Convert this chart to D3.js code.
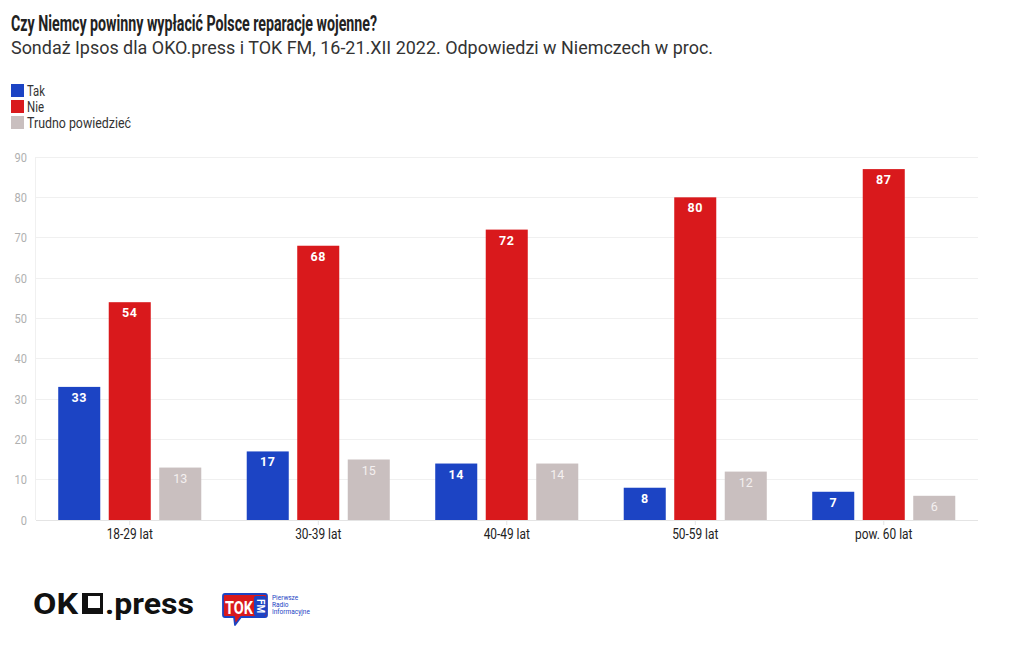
<!DOCTYPE html>
<html><head><meta charset="utf-8">
<script src="https://cdn.jsdelivr.net/npm/d3@7"></script>
<style>body{margin:0;background:#fff;} svg{display:block;font-family:Roboto,"Noto Sans",sans-serif;}</style>
</head><body>
<svg id="c" width="1020" height="650"></svg>
<script>
const categories = ["18-29 lat","30-39 lat","40-49 lat","50-59 lat","pow. 60 lat"];
const seriesNames = ["Tak","Nie","Trudno powiedzieć"];
const tak = [33,17,14,8,7];
const nie = [54,68,72,80,87];
const trudno = [13,15,14,12,6];
const yTicks = [0,10,20,30,40,50,60,70,80,90];
const colors = ["#1c44c4","#d9191c","#c9bfbf"];
const seriesValues = [tak, nie, trudno];

const svg = d3.select("#c");

// Title
svg.append("text").attr("x",11).attr("y",31).attr("font-size",22.5).attr("font-weight","bold")
  .attr("fill","#222").attr("textLength",366).attr("lengthAdjust","spacingAndGlyphs")
  .text("Czy Niemcy powinny wypłacić Polsce reparacje wojenne?");
svg.append("text").attr("x",11).attr("y",54).attr("font-size",18.5)
  .attr("fill","#333").attr("textLength",702).attr("lengthAdjust","spacingAndGlyphs")
  .text("Sondaż Ipsos dla OKO.press i TOK FM, 16-21.XII 2022. Odpowiedzi w Niemczech w proc.");

// Legend
const legW = [18, 17, 104];
seriesNames.forEach((s,i)=>{
  const g = svg.append("g").attr("transform",`translate(11,${84+i*16})`);
  g.append("rect").attr("width",13).attr("height",13).attr("fill",colors[i]);
  g.append("text").attr("x",16).attr("y",11.5).attr("font-size",14).attr("fill","#333")
    .attr("textLength",legW[i]).attr("lengthAdjust","spacingAndGlyphs").text(s);
});

// Scales
const margin = {left:35.5, right:978, top:157, bottom:520};
const y = d3.scaleLinear().domain([0,90]).range([margin.bottom, margin.top]);
const x0 = d3.scaleBand().domain(categories).range([margin.left, margin.right]).padding(0);
const x1 = d3.scaleBand().domain(seriesNames).range([0, x0.bandwidth()]).paddingInner(0.168).paddingOuter(0.45);

// Grid
svg.append("g").selectAll("line").data(yTicks).join("line")
  .attr("x1",margin.left).attr("x2",margin.right)
  .attr("y1",d=>y(d)).attr("y2",d=>y(d))
  .attr("stroke",d=>d===0?"#e4e4e4":"#f0f0f0").attr("stroke-width",1).attr("shape-rendering","crispEdges");
svg.append("line").attr("x1",margin.left).attr("x2",margin.left).attr("y1",margin.top).attr("y2",margin.bottom)
  .attr("stroke","#f0f0f0").attr("shape-rendering","crispEdges");

// Y axis labels
const yAxis = d3.axisLeft(y).tickValues(yTicks).tickSize(0).tickPadding(0);
const ya = svg.append("g").attr("transform",`translate(27,0)`).call(yAxis);
ya.select(".domain").remove();
ya.selectAll("text").attr("font-size",13).attr("fill","#b0b0b0").attr("font-family","Roboto,sans-serif")
  .each(function(){ const t=d3.select(this); const w=this.getComputedTextLength(); t.attr("textLength",w*0.85).attr("lengthAdjust","spacingAndGlyphs"); });

// X axis
const xAxis = d3.axisBottom(x0).tickSize(5).tickPadding(4);
const xa = svg.append("g").attr("transform",`translate(0,${margin.bottom})`).call(xAxis);
xa.select(".domain").remove();
xa.selectAll("line").attr("stroke","#e4e4e4");
xa.selectAll("text").attr("font-size",14.5).attr("fill","#222").attr("font-family","Roboto,sans-serif")
  .each(function(){ const t=d3.select(this); const w=this.getComputedTextLength(); t.attr("textLength",w*0.82).attr("lengthAdjust","spacingAndGlyphs"); });

// Bars
const groups = svg.append("g").selectAll("g").data(categories).join("g")
  .attr("transform",d=>`translate(${x0(d)},0)`);
groups.each(function(cat,ci){
  const g = d3.select(this);
  seriesNames.forEach((s,si)=>{
    const v = seriesValues[si][ci];
    g.append("rect").attr("x",x1(s)).attr("width",x1.bandwidth())
      .attr("y",y(v)).attr("height",y(0)-y(v)).attr("fill",colors[si]);
    g.append("text").attr("x",x1(s)+x1.bandwidth()/2).attr("y",y(v)+15)
      .attr("text-anchor","middle").attr("font-size",12.5)
      .attr("font-weight",si===2?"normal":"bold")
      .attr("fill",si===2?"#f4f0f0":"#fff").attr("letter-spacing",si===2?"0":"0.5")
      .text(v);
  });
});

// OKO.press logo
const oko = svg.append("g").attr("transform","translate(33,614)");
oko.append("text").attr("x",0).attr("y",0).attr("font-size",29).attr("font-weight","bold").attr("fill","#111")
  .attr("textLength",45).attr("lengthAdjust","spacingAndGlyphs").text("OK");
oko.append("rect").attr("x",49).attr("y",-21).attr("width",21).attr("height",21).attr("fill","#111");
oko.append("rect").attr("x",55).attr("y",-18).attr("width",12).attr("height",12).attr("fill","#fff");
oko.append("text").attr("x",72).attr("y",0).attr("font-size",29).attr("font-weight","bold").attr("fill","#111")
  .attr("textLength",89).attr("lengthAdjust","spacingAndGlyphs").text(".press");

// TOK FM logo
const tok = svg.append("g").attr("transform","translate(223,593)");
tok.append("path").attr("d","M2,1 H42 Q44,1 44,3 V22 Q44,24 42,24 H18 L12,32 L11,24 H2 Q0,24 0,22 V3 Q0,1 2,1 Z")
  .attr("fill","#d9191c").attr("stroke","#1c44c4").attr("stroke-width",1.8).attr("stroke-linejoin","round");
tok.append("text").attr("x",2).attr("y",21).attr("font-size",19).attr("font-weight","bold").attr("fill","#fff")
  .attr("textLength",28).attr("lengthAdjust","spacingAndGlyphs").text("TOK");
tok.append("rect").attr("x",31).attr("y",3).attr("width",12).attr("height",20).attr("rx",2).attr("fill","#1c44c4");
tok.append("text").attr("transform","translate(34,6) rotate(90)").attr("font-size",10).attr("font-weight","bold").attr("fill","#fff").text("FM");
["Pierwsze","Radio","Informacyjne"].forEach((t,i)=>{
  tok.append("text").attr("x",49).attr("y",7+i*7).attr("font-size",6.5).attr("fill","#1c44c4").text(t);
});
</script>
</body></html>
